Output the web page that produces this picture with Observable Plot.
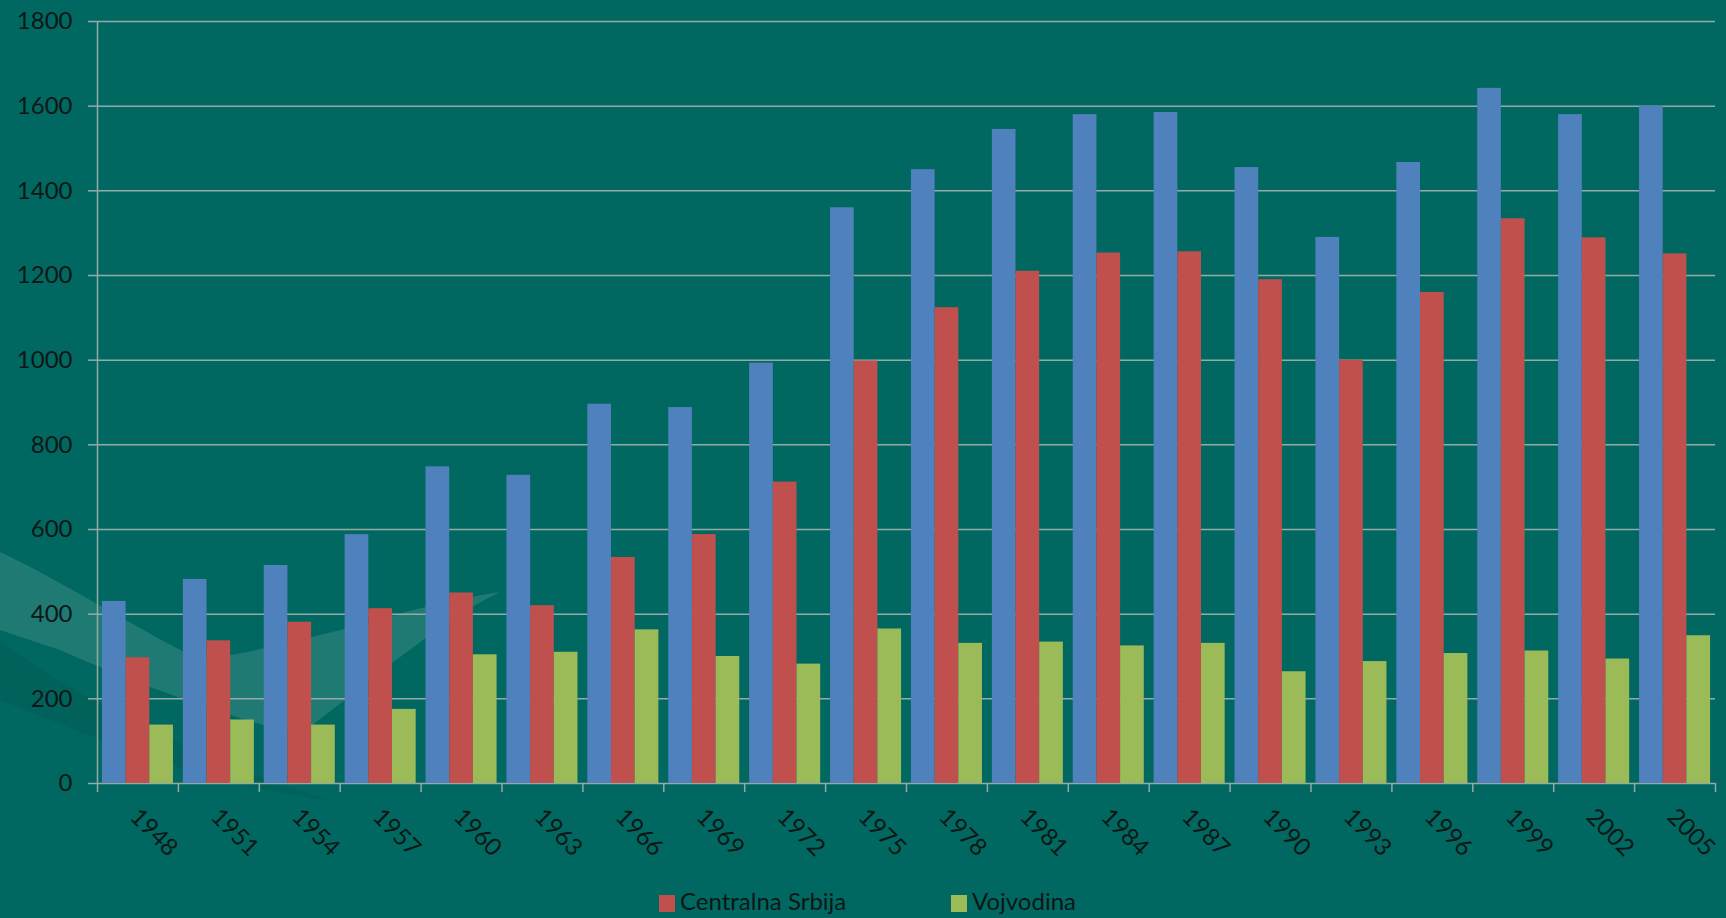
<!DOCTYPE html>
<html>
<head>
<meta charset="utf-8">
<script src="https://cdn.jsdelivr.net/npm/d3@7"></script>
<script src="https://cdn.jsdelivr.net/npm/@observablehq/plot@0.6"></script>
<style>
  html, body { margin: 0; padding: 0; }
  body { width: 1726px; height: 918px; overflow: hidden; background: #006860; font-family: Lato, "Open Sans", sans-serif; }
  #wrap { position: relative; width: 1726px; height: 918px; }
  #deco { position: absolute; left: 0; top: 0; }
  #chart { position: relative; }
  #legend { position: relative; height: 38px; font-size: 24px; color: #0d1716; }
  .sw { position: absolute; top: 15px; width: 16px; height: 17px; }
  .lt { position: absolute; top: 9px; line-height: 24px; white-space: nowrap; }
</style>
</head>
<body>
<div id="wrap">
  <svg id="deco" width="1726" height="918">
    <path d="M0,552 C60,580 130,625 200,660 C240,655 300,640 360,625 C410,610 450,600 500,592 C450,615 390,665 300,735 C240,720 150,690 60,650 L0,630 Z" fill="rgba(255,255,255,0.12)"/>
    <path d="M0,640 C80,700 200,760 330,800 C220,790 100,740 0,700 Z" fill="rgba(0,0,0,0.05)"/>
  </svg>
  <div id="chart"></div>
  <div id="legend"></div>
</div>
<script>
const years = [1948, 1951, 1954, 1957, 1960, 1963, 1966, 1969, 1972, 1975, 1978, 1981, 1984, 1987, 1990, 1993, 1996, 1999, 2002, 2005];
const srbija = [430, 482, 515, 588, 748, 728, 896, 888, 993, 1360, 1450, 1545, 1580, 1585, 1455, 1290, 1467, 1642, 1580, 1600];
const centralnaSrbija = [297, 337, 381, 413, 450, 420, 534, 588, 712, 998, 1124, 1210, 1253, 1256, 1190, 1000, 1160, 1334, 1289, 1251];
const vojvodina = [138, 150, 138, 175, 304, 310, 363, 300, 282, 365, 331, 334, 325, 331, 264, 288, 307, 313, 294, 349];
const seriesNames = ["Srbija", "Centralna Srbija", "Vojvodina"];
const seriesColors = ["#4F81BD", "#C0504D", "#9BBB59"];
const legendNames = ["Centralna Srbija", "Vojvodina"];
const yTicks = d3.range(0, 1801, 200);

const gridColor = "#95aaa7";
const textColor = "#0d1716";
const gap = 0.122;               // gap between category groups (fraction of a category)
const bw = (1 - gap) / 3;        // bar width (fraction of a category)

const rows = [];
[srbija, centralnaSrbija, vojvodina].forEach((vals, j) =>
  vals.forEach((v, i) => rows.push({ i, j, year: years[i], series: seriesNames[j], value: v }))
);

const chart = Plot.plot({
  width: 1726,
  height: 880,
  marginLeft: 97,
  marginRight: 11,
  marginTop: 21,
  marginBottom: 97,
  style: { background: "transparent", color: textColor, fontFamily: "Lato, 'Open Sans', sans-serif", fontSize: "24px", overflow: "visible" },
  x: { type: "linear", domain: [0, years.length], axis: null },
  y: { domain: [0, 1800], axis: null, label: null },
  color: { domain: seriesNames, range: seriesColors },
  marks: [
    Plot.gridY(yTicks, { stroke: gridColor, strokeOpacity: 1, strokeWidth: 1.5 }),
    Plot.rectY(rows, {
      x1: d => d.i + gap / 2 + d.j * bw,
      x2: d => d.i + gap / 2 + (d.j + 1) * bw,
      y: "value",
      fill: "series"
    }),
    Plot.ruleX([0], { y1: 0, y2: 1800, stroke: gridColor, strokeWidth: 1.5 }),
    Plot.axisX(d3.range(years.length + 1), { tickSize: 9, tickFormat: () => "", label: null, stroke: gridColor, strokeWidth: 1.5 }),
    Plot.axisY(yTicks, { tickSize: 9, tickPadding: 16, tickFormat: d => String(d), label: null, stroke: gridColor, strokeWidth: 1.5, fill: textColor, fontSize: 24 }),
    Plot.text(years, {
      x: (d, i) => i + 0.5,
      y: () => 0,
      text: d => String(d),
      rotate: 45,
      textAnchor: "middle",
      lineAnchor: "middle",
      dx: 16,
      dy: 49,
      fontSize: 24,
      fill: textColor
    })
  ]
});
document.getElementById("chart").appendChild(chart);

const legend = document.getElementById("legend");
const legendLeft = [659, 951];
legendNames.forEach((name, k) => {
  const sw = document.createElement("span");
  sw.className = "sw";
  sw.style.left = legendLeft[k] + "px";
  sw.style.background = seriesColors[seriesNames.indexOf(name)];
  legend.appendChild(sw);
  const t = document.createElement("span");
  t.className = "lt";
  t.style.left = (legendLeft[k] + 21) + "px";
  t.textContent = name;
  legend.appendChild(t);
});
</script>
</body>
</html>
